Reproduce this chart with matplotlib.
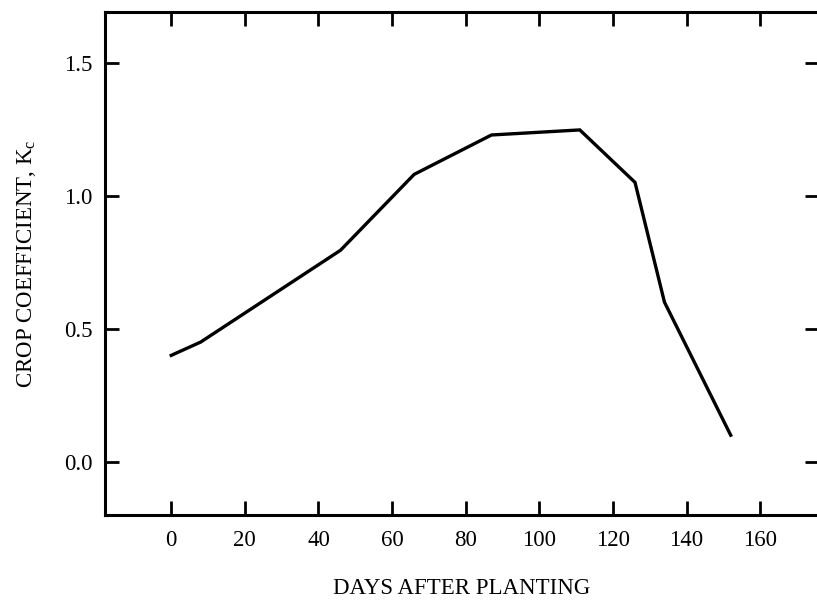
import matplotlib.pyplot as plt

# Crop coefficient curve over the season
days = [0, 8, 46, 66, 87, 111, 126, 134, 152]
kc = [0.40, 0.45, 0.795, 1.08, 1.228, 1.247, 1.05, 0.60, 0.10]

x_ticks = [0, 20, 40, 60, 80, 100, 120, 140, 160]
y_ticks = [0.0, 0.5, 1.0, 1.5]

plt.rcParams['font.family'] = ['Liberation Serif', 'DejaVu Serif']
plt.rcParams['mathtext.fontset'] = 'custom'
plt.rcParams['mathtext.rm'] = 'Liberation Serif'

fig = plt.figure(figsize=(8.17, 6.01), dpi=100)
ax = fig.add_axes([0.1285, 0.143, 0.874, 0.837])

ax.plot(days, kc, color='black', lw=2.4, solid_joinstyle='miter')

ax.set_xlim(-18, 176)
ax.set_ylim(-0.2, 1.69)
ax.set_xticks(x_ticks)
ax.set_yticks(y_ticks)
ax.set_yticklabels([f'{v:.1f}' for v in y_ticks])

ax.tick_params(direction='in', length=10, width=2, labelsize=16.5,
               top=True, right=True, color='black')
ax.tick_params(axis='x', pad=11)
ax.tick_params(axis='y', pad=9)
for s in ax.spines.values():
    s.set_linewidth(2.2)

ax.set_xlabel('DAYS AFTER PLANTING', fontsize=16.5, labelpad=19)
ax.set_ylabel(r'CROP COEFFICIENT, K$_\mathregular{c}$', fontsize=16.5, labelpad=19)

fig.savefig('out.png', dpi=100)
